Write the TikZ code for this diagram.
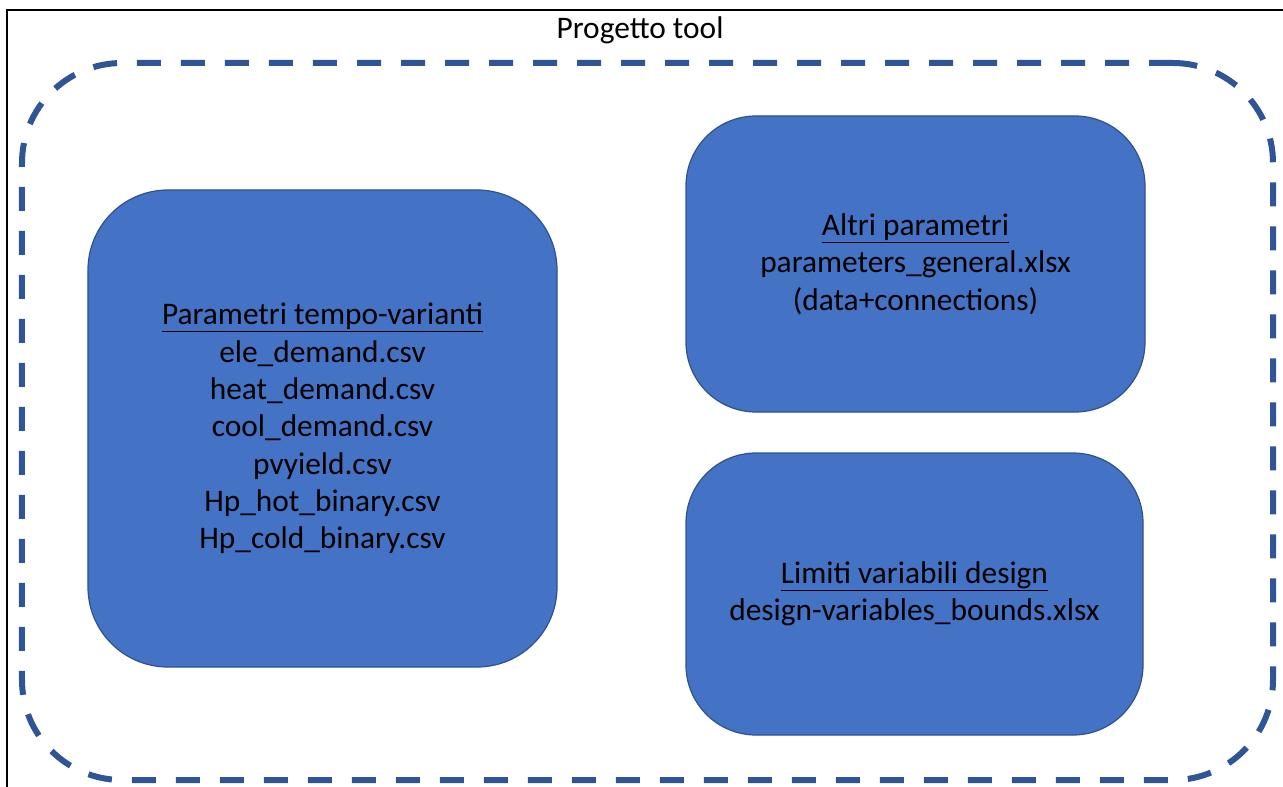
\documentclass[tikz,border=0pt]{standalone}
\usepackage{fontspec}
\setmainfont{Carlito}
\usetikzlibrary{positioning}
\definecolor{boxfillc}{HTML}{4472C4}
\definecolor{boxdrawc}{HTML}{2F528F}
\definecolor{dashc}{HTML}{2F5597}

\begin{document}
\begin{tikzpicture}[x=1bp,y=-1bp,
  filebox/.style={draw=boxdrawc,fill=boxfillc,line width=1.2bp,align=center,text=black,
    inner sep=0pt,font=\fontsize{31.5}{37.5}\selectfont},
  toolframe/.style={draw=dashc,line width=6bp,dash pattern=on 24bp off 20bp,rounded corners=100bp,
    minimum width=1251bp,minimum height=717bp}]
\useasboundingbox (0,0) rectangle (1283,787);
\draw[line width=2.5bp] (7,10) rectangle (1310,810);

\node[toolframe] (frame) at (647.5,421.5) {};
\node[font=\fontsize{31.5}{37}\selectfont] (title) at (640,30) {Progetto tool};

% file groups
\node[filebox,rounded corners=80bp,minimum width=469bp,minimum height=477bp] (tempo) at (322.5,428.5)
  {\underline{Parametri tempo-varianti}\\ele\_demand.csv\\heat\_demand.csv\\cool\_demand.csv\\pvyield.csv\\Hp\_hot\_binary.csv\\Hp\_cold\_binary.csv};
\node[filebox,rounded corners=70bp,minimum width=459bp,minimum height=296bp] (altri) at (915.5,264)
  {\underline{Altri parametri}\\parameters\_general.xlsx\\(data+connections)};
\node[filebox,rounded corners=70bp,minimum width=457bp,minimum height=282bp] (limiti) at (914.5,594)
  {\underline{Limiti variabili design}\\design-variables\_bounds.xlsx};
\end{tikzpicture}
\end{document}
